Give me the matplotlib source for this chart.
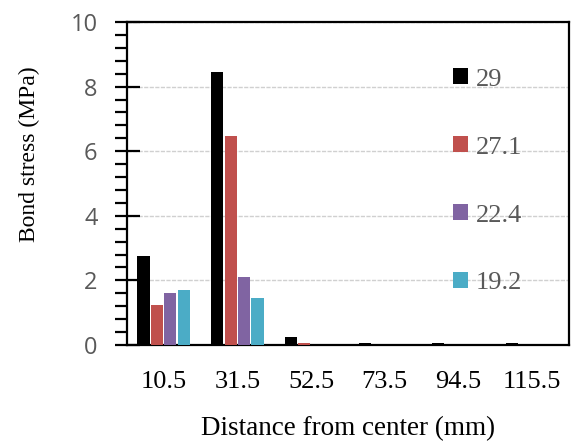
import matplotlib
matplotlib.use("Agg")
import matplotlib.pyplot as plt
import numpy as np
from matplotlib.patches import Patch
from matplotlib.ticker import MultipleLocator

categories = ["10.5", "31.5", "52.5", "73.5", "94.5", "115.5"]
series_names = ["29", "27.1", "22.4", "19.2"]
s29 = [2.75, 8.45, 0.25, 0.05, 0.05, 0.05]
s271 = [1.24, 6.47, 0.07, 0.0, 0.0, 0.0]
s224 = [1.62, 2.10, 0.0, 0.0, 0.0, 0.0]
s192 = [1.70, 1.45, 0.0, 0.0, 0.0, 0.0]
series = [s29, s271, s224, s192]
colors = ["#000000", "#C0504D", "#8064A2", "#4BACC6"]

fig = plt.figure(figsize=(5.71, 4.46), dpi=100)
ax = fig.add_axes([0.222, 0.2265, 0.7745, 0.7242])

x = np.arange(len(categories))
width = 0.165
step = 0.182
for i, (vals, c) in enumerate(zip(series, colors)):
    ax.bar(x + (i - 1.5) * step, vals, width, color=c, zorder=3, linewidth=0)

ax.set_xlim(-0.5, len(categories) - 0.5)
ax.set_ylim(0, 10)
ax.yaxis.set_major_locator(MultipleLocator(2))
ax.yaxis.set_minor_locator(MultipleLocator(0.4))
ax.grid(axis="y", which="major", color="#d0d0d0", linestyle=(0, (3, 1)), linewidth=1.0, zorder=0)

for sp in ax.spines.values():
    sp.set_linewidth(1.6)
    sp.set_color("black")

ax.set_xticks(x)
ax.set_xticklabels(categories, fontfamily="Liberation Serif", fontsize=19, color="black")
ax.tick_params(axis="x", length=0, pad=19)
ax.tick_params(axis="y", which="major", direction="inout", length=18, width=1.6, pad=12,
               labelsize=17, labelcolor="#595959")
ax.tick_params(axis="y", which="minor", direction="out", length=9, width=1.6)
for lab in ax.get_yticklabels():
    lab.set_fontfamily("Open Sans")

ax.set_ylabel("Bond stress (MPa)", fontfamily="Liberation Serif", fontsize=17, color="black")
ax.yaxis.set_label_coords(-0.195, 0.59)
ax.set_xlabel("Distance from center (mm)", fontfamily="Liberation Serif", fontsize=19.5, color="black")
ax.xaxis.set_label_coords(0.5, -0.22)

handles = [Patch(facecolor=c, edgecolor="none") for c in colors]
leg = ax.legend(handles, series_names, loc="upper left", bbox_to_anchor=(0.685, 0.93),
                frameon=False, handlelength=0.55, handleheight=0.55, handletextpad=0.3,
                labelspacing=1.73, prop={"family": "Liberation Serif", "size": 19})
for t in leg.get_texts():
    t.set_color("#595959")

fig.savefig("out.png", dpi=100)
